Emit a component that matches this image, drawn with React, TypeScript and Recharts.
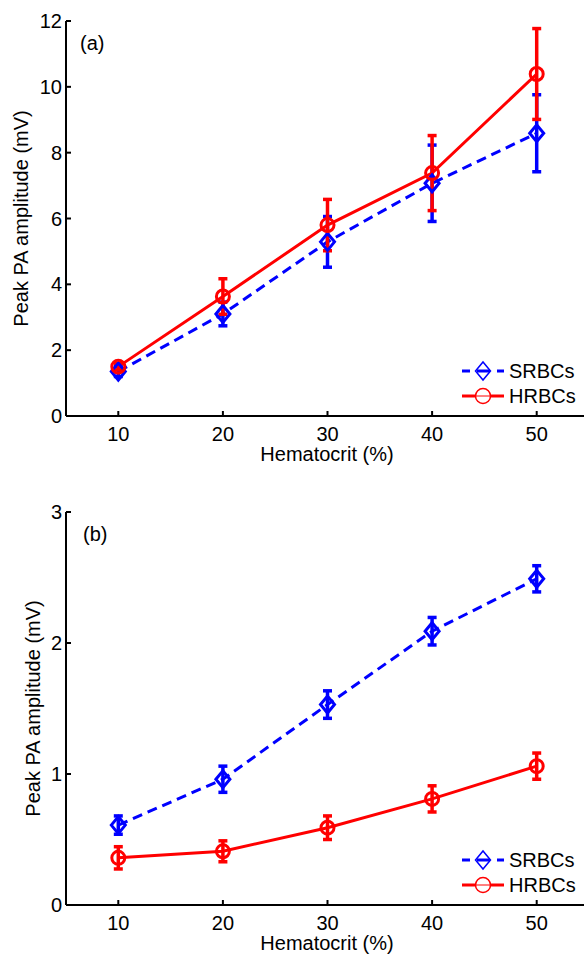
import { LineChart, Line, XAxis, YAxis, ErrorBar, Customized } from "recharts";

const hematocrit = [10, 20, 30, 40, 50];

// panel (a)
const srbcA = [1.35, 3.1, 5.29, 7.07, 8.59];
const srbcAErr = [0.15, 0.36, 0.77, 1.16, 1.17];
const hrbcA = [1.5, 3.63, 5.8, 7.38, 10.39];
const hrbcAErr = [0.1, 0.54, 0.78, 1.14, 1.38];

// panel (b)
const srbcB = [0.61, 0.96, 1.53, 2.09, 2.49];
const srbcBErr = [0.07, 0.1, 0.105, 0.105, 0.1];
const hrbcB = [0.36, 0.41, 0.59, 0.81, 1.06];
const hrbcBErr = [0.085, 0.08, 0.09, 0.1, 0.1];

const xTicks = [10, 20, 30, 40, 50];
const yTicksA = [0, 2, 4, 6, 8, 10, 12];
const yTicksB = [0, 1, 2, 3];

const seriesNames = ["SRBCs", "HRBCs"];

const BLUE = "#0000ff";
const RED = "#ff0000";
const FONT = "'Liberation Sans', Arial, sans-serif";
const FS = 20;

const W = 600;
const H = 477;
const LEFT = 66;

const rows = (s: number[], se: number[], h: number[], he: number[]) =>
  hematocrit.map((x, i) => ({ x, s: s[i], se: se[i], h: h[i], he: he[i] }));

const dataA = rows(srbcA, srbcAErr, hrbcA, hrbcAErr);
const dataB = rows(srbcB, srbcBErr, hrbcB, hrbcBErr);

function Diamond(p: any) {
  const { cx, cy } = p;
  if (cx == null || cy == null) return <g />;
  const pts = `${cx - 7},${cy} ${cx},${cy - 8.5} ${cx + 7},${cy} ${cx},${cy + 8.5}`;
  return <polygon points={pts} fill="none" stroke={BLUE} strokeWidth={3} />;
}

function Ring(p: any) {
  const { cx, cy } = p;
  if (cx == null || cy == null) return <g />;
  return <circle cx={cx} cy={cy} r={6.5} fill="none" stroke={RED} strokeWidth={3} />;
}

function YTick(p: any) {
  const { x, y, payload } = p;
  return (
    <g>
      <line x1={x + 4} x2={x + 9} y1={y} y2={y} stroke="#000" strokeWidth={2} />
      <text x={x} y={y + 7} textAnchor="end" fontFamily={FONT} fontSize={FS} fill="#000">
        {payload.value}
      </text>
    </g>
  );
}

function XTick(p: any) {
  const { x, y, payload } = p;
  return (
    <g>
      <line x1={x} x2={x} y1={y} y2={y - 5} stroke="#000" strokeWidth={2} />
      <text x={x} y={y + 25} textAnchor="middle" fontFamily={FONT} fontSize={FS} fill="#000">
        {payload.value}
      </text>
    </g>
  );
}

function Overlay({
  tag,
  tagX,
  top,
  bottom,
  yTitleX,
}: {
  tag: string;
  tagX: number;
  top: number;
  bottom: number;
  yTitleX: number;
}) {
  const r1 = bottom - 45;
  const r2 = bottom - 20;
  const yMid = (top + bottom) / 2;
  return (
    <g fontFamily={FONT} fontSize={FS} fill="#000">
      <text x={tagX} y={top + 29}>{tag}</text>
      <text
        x={yTitleX}
        y={yMid}
        textAnchor="middle"
        transform={`rotate(-90 ${yTitleX} ${yMid})`}
      >
        Peak PA amplitude (mV)
      </text>
      <text x={327} y={bottom + 45} textAnchor="middle">
        Hematocrit (%)
      </text>
      {/* legend */}
      <line x1={462} x2={504} y1={r1} y2={r1} stroke={BLUE} strokeWidth={3} strokeDasharray="8 7 13 7 8" />
      <polygon
        points={`475.5,${r1} 483,${r1 - 9} 490.5,${r1} 483,${r1 + 9}`}
        fill="none"
        stroke={BLUE}
        strokeWidth={1.5}
      />
      <text x={509} y={r1 + 7}>{seriesNames[0]}</text>
      <line x1={462} x2={504} y1={r2} y2={r2} stroke={RED} strokeWidth={3} />
      <circle cx={483} cy={r2} r={7.5} fill="white" stroke={RED} strokeWidth={1.5} />
      <line x1={476} x2={490} y1={r2} y2={r2} stroke={RED} strokeWidth={1} />
      <text x={509} y={r2 + 7}>{seriesNames[1]}</text>
    </g>
  );
}

function Panel({
  data,
  yMax,
  yTicks,
  marginTop,
  xAxisHeight,
  tag,
  tagX,
  yTitleX,
}: {
  data: any[];
  yMax: number;
  yTicks: number[];
  marginTop: number;
  xAxisHeight: number;
  tag: string;
  tagX: number;
  yTitleX: number;
}) {
  const top = marginTop;
  const bottom = H - xAxisHeight;
  return (
    <LineChart width={W} height={H} data={data} margin={{ top: marginTop, right: 11, bottom: 0, left: 0 }}>
      <XAxis
        dataKey="x"
        type="number"
        domain={[5, 55]}
        ticks={xTicks}
        height={xAxisHeight}
        tickSize={0}
        tickMargin={0}
        tick={<XTick />}
        axisLine={{ stroke: "#000", strokeWidth: 2 }}
      />
      <YAxis
        type="number"
        domain={[0, yMax]}
        ticks={yTicks}
        width={LEFT}
        tickSize={0}
        tickMargin={4}
        tick={<YTick />}
        axisLine={{ stroke: "#000", strokeWidth: 2 }}
      />
      <Line
        dataKey="s"
        type="linear"
        stroke={BLUE}
        strokeWidth={3}
        strokeDasharray="10 6"
        dot={<Diamond />}
        activeDot={false}
        isAnimationActive={false}
      >
        <ErrorBar dataKey="se" direction="y" width={4.5} stroke={BLUE} strokeWidth={3.5} isAnimationActive={false} />
      </Line>
      <Line
        dataKey="h"
        type="linear"
        stroke={RED}
        strokeWidth={3}
        dot={<Ring />}
        activeDot={false}
        isAnimationActive={false}
      >
        <ErrorBar dataKey="he" direction="y" width={4.5} stroke={RED} strokeWidth={3.5} isAnimationActive={false} />
      </Line>
      <Customized
        component={<Overlay tag={tag} tagX={tagX} top={top} bottom={bottom} yTitleX={yTitleX} />}
      />
    </LineChart>
  );
}

export default function App() {
  return (
    <div
      style={{
        position: "absolute",
        left: 0,
        top: 0,
        width: 584,
        height: 954,
        overflow: "hidden",
        background: "#fff",
      }}
    >
      <Panel data={dataA} yMax={12} yTicks={yTicksA} marginTop={21} xAxisHeight={61} tag="(a)" tagX={80} yTitleX={28} />
      <Panel data={dataB} yMax={3} yTicks={yTicksB} marginTop={35} xAxisHeight={49} tag="(b)" tagX={83} yTitleX={40} />
    </div>
  );
}
